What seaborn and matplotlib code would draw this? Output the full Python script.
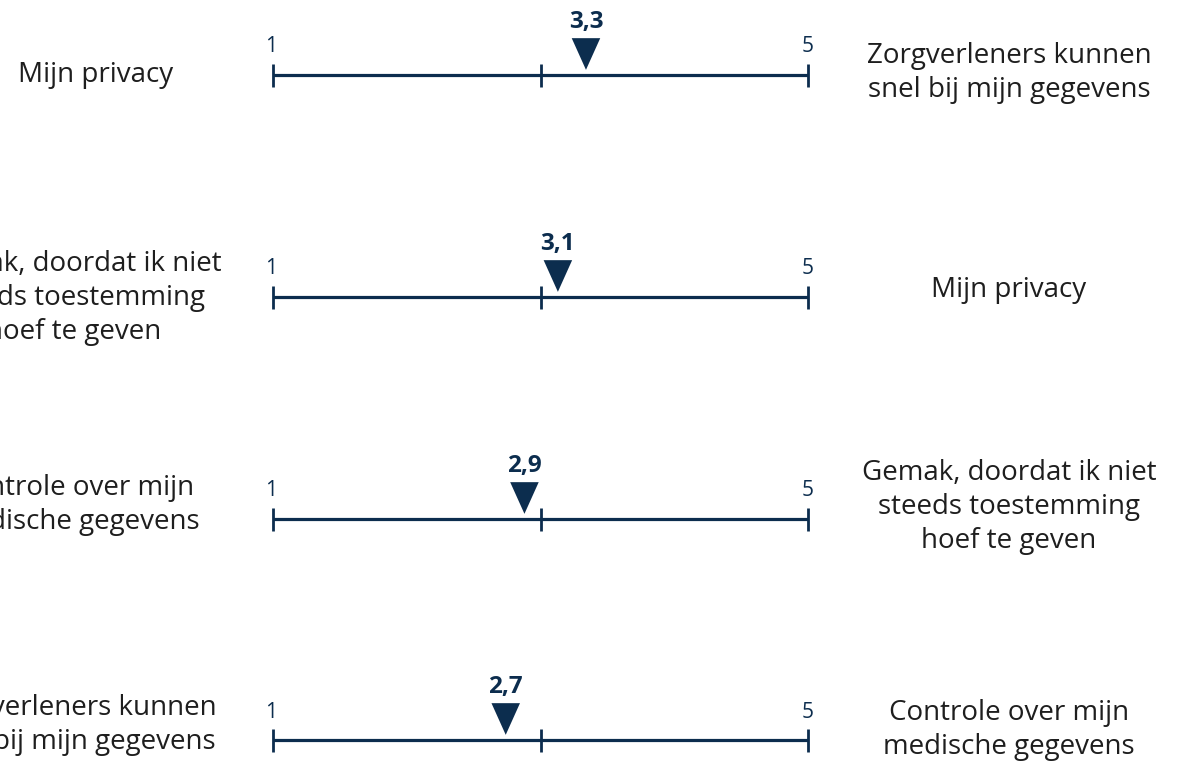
import matplotlib
matplotlib.use("Agg")
import matplotlib.pyplot as plt
from matplotlib.path import Path
import seaborn as sns
import pandas as pd

sns.set_theme(style="white")
plt.rcParams['font.family'] = ['Open Sans', 'DejaVu Sans']

# data
left_labels = ["Mijn privacy",
               "Gemak, doordat ik niet\nsteeds toestemming\nhoef te geven",
               "Controle over mijn\nmedische gegevens",
               "Zorgverleners kunnen\nsnel bij mijn gegevens"]
right_labels = ["Zorgverleners kunnen\nsnel bij mijn gegevens",
                "Mijn privacy",
                "Gemak, doordat ik niet\nsteeds toestemming\nhoef te geven",
                "Controle over mijn\nmedische gegevens"]
values = [3.34, 3.13, 2.88, 2.74]
scale_min, scale_mid, scale_max = 1, 3, 5

navy = "#0c2d4e"
txt = "#1e1e1e"

W, H = 1190, 761
fig = plt.figure(figsize=(W / 100, H / 100), dpi=100)
ax = fig.add_axes([0, 0, 1, 1])
ppu = 133.75  # pixels per unit
x0 = 273

row_y = [75, 297, 519, 740]
left_x = [96, 74, 74, 74]
left_y = [75, 298, 505, 725]
right_y = [73, 290, 507, 730]
right_x = 1009

df = pd.DataFrame({"value": values, "y": [r - 21 for r in row_y]})

for i, y in enumerate(row_y):
    ax.plot([scale_min, scale_max], [y, y], color=navy, lw=2.3, solid_capstyle="butt")
    for t in (scale_min, scale_mid, scale_max):
        ax.plot([t, t], [y - 11.5, y + 12], color=navy, lw=2.0, solid_capstyle="butt")
    ax.text(scale_min - 0.015, y - 28, str(scale_min), ha="center", va="center",
            fontsize=15, color=navy)
    ax.text(scale_max, y - 28, str(scale_max), ha="center", va="center",
            fontsize=15, color=navy)
    ax.text(values[i], y - 53, f"{values[i]:.1f}".replace(".", ","), ha="center",
            va="center", fontsize=17.5, fontweight="bold", color=navy)
    ax.text(1 + (left_x[i] - x0) / ppu, left_y[i], left_labels[i], ha="center",
            va="center", fontsize=20, color=txt, linespacing=1.27)
    ax.text(1 + (right_x - x0) / ppu, right_y[i], right_labels[i], ha="center",
            va="center", fontsize=20, color=txt, linespacing=1.27)

tri = Path([(-0.9, 1), (0.9, 1), (0, -1), (-0.9, 1)],
           [Path.MOVETO, Path.LINETO, Path.LINETO, Path.CLOSEPOLY])
sns.scatterplot(data=df, x="value", y="y", marker=tri, s=520, color=navy,
                edgecolor="none", ax=ax, legend=False, zorder=5)
ax.set_xlim(1 - x0 / ppu, 1 + (W - x0) / ppu)
ax.set_ylim(H, 0)
ax.axis("off")

fig.savefig("out.png", dpi=100)
